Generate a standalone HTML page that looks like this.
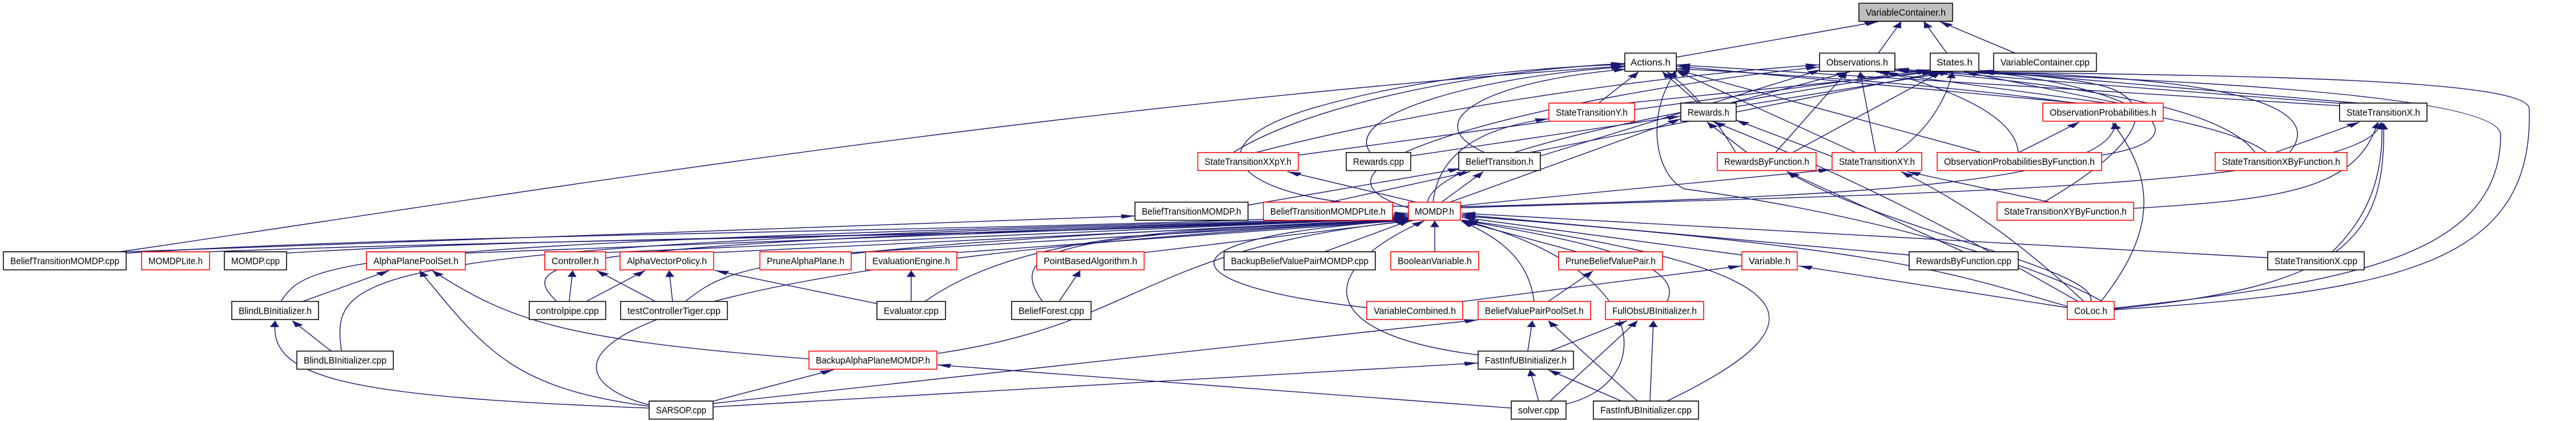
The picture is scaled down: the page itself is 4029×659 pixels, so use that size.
<!DOCTYPE html>
<html><head><meta charset="utf-8"><style>
html,body{margin:0;padding:0;background:#fff;width:4029px;height:659px;overflow:hidden}
svg{display:block}
text{font-family:"Liberation Sans",sans-serif;font-size:34px;fill:#000}
.e{fill:none;stroke:#191970;stroke-width:1.3;vector-effect:non-scaling-stroke;marker-end:url(#a)}
.b{fill:#fff;stroke:#000;stroke-width:1.4;vector-effect:non-scaling-stroke}
.r{fill:#fff;stroke:#ff0000;stroke-width:1.4;vector-effect:non-scaling-stroke}
.g{fill:#bfbfbf;stroke:#000;stroke-width:1.4;vector-effect:non-scaling-stroke}
</style></head><body>
<svg width="4029" height="659" viewBox="0 0 4512 1560" preserveAspectRatio="none" xmlns="http://www.w3.org/2000/svg">
<defs><marker id="a" markerUnits="userSpaceOnUse" markerWidth="26" markerHeight="18" refX="24" refY="8" orient="auto"><path d="M0,0 L24,8 L0,16 z" fill="#191970"/></marker></defs>
<g>
<!-- top -->
<path class="e" d="M2936,212 L3290,80"/>
<path class="e" d="M3290,197 L3330,80"/>
<path class="e" d="M3410,197 L3370,80"/>
<path class="e" d="M3530,197 L3398,80"/>
<!-- row2 -->
<path class="e" d="M2800,382 L2870,266"/>
<path class="e" d="M2850,382 L3390,266"/>
<path class="e" d="M2975,382 L2912,266"/>
<path class="e" d="M3030,382 L3240,266"/>
<path class="e" d="M3041,395 L3420,266"/>
<path class="e" d="M3640,382 L2936,245"/>
<path class="e" d="M3690,382 L3285,266"/>
<path class="e" d="M3710,382 L3440,266"/>
<path class="e" d="M4098,392 L2936,240"/>
<path class="e" d="M4110,385 L3319,255"/>
<path class="e" d="M4130,382 L3466,262"/>
<!-- row3 -->
<path class="e" d="M2160,565 C2300,380 2600,260 2846,235"/>
<path class="e" d="M2200,565 C2500,400 2900,280 3187,240"/>
<path class="e" d="M2274,575 L3381,258"/>
<path class="e" d="M2471,578 L2944,430"/>
<path class="e" d="M2400,565 C2350,420 2600,280 2846,248"/>
<path class="e" d="M2600,565 C2480,450 2600,300 2850,256"/>
<path class="e" d="M2698,578 L3190,258"/>
<path class="e" d="M2680,565 L3400,266"/>
<path class="e" d="M3060,565 L2990,452"/>
<path class="e" d="M3040,565 C3000,420 2960,330 2920,266"/>
<path class="e" d="M3110,565 L3235,266"/>
<path class="e" d="M3140,565 L3400,266"/>
<path class="e" d="M3250,565 L2936,262"/>
<path class="e" d="M3285,565 L3258,266"/>
<path class="e" d="M3320,565 C3380,480 3410,360 3420,266"/>
<path class="e" d="M3209,580 L3041,445"/>
<path class="e" d="M3536,565 L3642,452"/>
<path class="e" d="M3470,565 L2936,258"/>
<path class="e" d="M3535,565 C3530,420 3400,320 3300,266"/>
<path class="e" d="M3681,575 C3900,500 3700,300 3455,264"/>
<path class="e" d="M3985,565 L4133,452"/>
<path class="e" d="M3970,565 C3900,450 3600,330 2936,254"/>
<path class="e" d="M3950,565 C3900,420 3700,320 3319,260"/>
<path class="e" d="M4010,565 C4060,440 4000,290 3470,268"/>
<!-- row4 -->
<path class="e" d="M3590,749 L3340,636"/>
<path class="e" d="M3737,772 C4000,740 4130,700 4165,452"/>
<path class="e" d="M3580,749 C3700,600 3800,420 3700,330 C3650,290 3540,275 3468,268"/>
<path class="e" d="M2467,765 C2200,760 2050,560 2300,400 C2500,280 2700,250 2846,238"/>
<path class="e" d="M2467,770 C2200,600 2800,330 3187,248"/>
<path class="e" d="M2500,749 C2520,560 3000,380 3381,262"/>
<path class="e" d="M2510,749 C2520,560 2600,470 2713,440"/>
<path class="e" d="M2540,749 L2944,440"/>
<path class="e" d="M2480,749 L2255,636"/>
<path class="e" d="M2525,749 L2598,636"/>
<path class="e" d="M2558,770 C3300,720 4150,700 4170,454"/>
<path class="e" d="M2558,762 L3209,628"/>
<path class="e" d="M2558,766 C3200,730 3700,690 3705,454"/>
<path class="e" d="M2186,760 L2560,624"/>
<path class="e" d="M2330,749 L2575,636"/>
<!-- row5 -> MOMDP -->
<path class="e" d="M210,933 C900,720 1800,400 2846,244"/>
<path class="e" d="M221,933 L1988,800"/>
<path class="e" d="M221,938 C800,860 1800,860 2467,790"/>
<path class="e" d="M367,933 C1000,880 1900,880 2467,795"/>
<path class="e" d="M502,938 C1000,870 1900,880 2467,800"/>
<path class="e" d="M815,938 L2467,805"/>
<path class="e" d="M1061,936 L2467,808"/>
<path class="e" d="M1250,936 L2470,812"/>
<path class="e" d="M1491,936 L2472,814"/>
<path class="e" d="M1676,936 L2475,815"/>
<path class="e" d="M2004,936 L2478,816"/>
<path class="e" d="M2320,933 L2470,816"/>
<path class="e" d="M2513,933 L2513,818"/>
<path class="e" d="M2762,933 L2560,818"/>
<path class="e" d="M3051,945 L2560,805"/>
<path class="e" d="M3439,933 L3130,636"/>
<path class="e" d="M3344,945 L2560,795"/>
<path class="e" d="M4085,933 C4150,800 4175,650 4172,454"/>
<path class="e" d="M3972,955 L2560,790"/>
<!-- row6 -->
<path class="e" d="M492,1117 C540,960 600,900 2467,806"/>
<path class="e" d="M530,1117 L682,1002"/>
<path class="e" d="M997,1117 L1003,1002"/>
<path class="e" d="M1027,1117 L1130,1002"/>
<path class="e" d="M975,1117 C900,960 950,900 2467,808"/>
<path class="e" d="M1148,1117 L1045,1002"/>
<path class="e" d="M1178,1117 L1172,1002"/>
<path class="e" d="M1200,1117 C1280,990 1300,920 2467,812"/>
<path class="e" d="M1536,1125 L1252,1002"/>
<path class="e" d="M1596,1117 L1596,1002"/>
<path class="e" d="M1620,1117 C1800,850 2100,850 2467,814"/>
<path class="e" d="M1855,1117 L1892,1002"/>
<path class="e" d="M1826,1117 C1750,900 1900,870 2467,815"/>
<path class="e" d="M2394,1140 C2050,1060 2000,880 2467,816"/>
<path class="e" d="M2562,1117 L3051,985"/>
<path class="e" d="M2712,1117 L2790,1004"/>
<path class="e" d="M2687,1117 C2680,1000 2650,900 2560,820"/>
<path class="e" d="M2920,1117 C2960,950 2700,870 2560,815"/>
<path class="e" d="M3621,1140 L3150,985"/>
<path class="e" d="M3621,1135 C3400,1000 3300,920 2560,800"/>
<path class="e" d="M3640,1117 C3500,950 3300,700 3000,450"/>
<path class="e" d="M3650,1117 C3550,920 3450,760 3330,636"/>
<path class="e" d="M3662,1117 C3680,1000 3300,850 3130,636"/>
<path class="e" d="M3680,1117 C3760,900 3790,700 3700,455"/>
<path class="e" d="M3703,1145 C4100,1060 4180,900 4175,456"/>
<path class="e" d="M3703,1148 C4200,1080 4440,980 4430,400 C4420,300 4000,280 3470,268"/>
<path class="e" d="M3703,1142 C4100,1050 4380,960 4380,500 C4380,350 3800,290 3320,262"/>
<path class="e" d="M3700,1140 C3600,1000 3300,800 2950,700 C2900,650 2880,430 2936,262"/>
<!-- row7 -->
<path class="e" d="M580,1301 L512,1188"/>
<path class="e" d="M598,1301 C580,1000 600,900 2467,810"/>
<path class="e" d="M1417,1330 C1000,1260 900,1200 757,1002"/>
<path class="e" d="M1641,1310 C2000,1200 2000,920 2470,818"/>
<path class="e" d="M2589,1315 C2300,1240 2300,1000 2495,818"/>
<path class="e" d="M2676,1301 L2684,1188"/>
<path class="e" d="M2715,1301 L2850,1188"/>
<!-- row8 -->
<path class="e" d="M1137,1512 C600,1470 470,1400 482,1188"/>
<path class="e" d="M1137,1505 C900,1440 850,1300 735,1002"/>
<path class="e" d="M1137,1500 C950,1400 900,1000 2467,816"/>
<path class="e" d="M1250,1486 L1460,1370"/>
<path class="e" d="M1249,1508 L2589,1345"/>
<path class="e" d="M1249,1495 L2589,1185"/>
<path class="e" d="M2695,1486 L2680,1370"/>
<path class="e" d="M2715,1486 L2868,1188"/>
<path class="e" d="M2647,1512 L1641,1352"/>
<path class="e" d="M2743,1497 C2900,1420 2900,1000 2565,818"/>
<path class="e" d="M2840,1486 L2712,1370"/>
<path class="e" d="M2868,1486 L2712,1188"/>
<path class="e" d="M2890,1486 L2896,1188"/>
<path class="e" d="M2920,1486 C3200,1200 3200,1000 2565,816"/>
</g>
<g>
<rect class="g" x="3256" y="12" width="164" height="67"/><text x="3268" y="58" textLength="140" lengthAdjust="spacingAndGlyphs">VariableContainer.h</text>
<rect class="b" x="2846" y="197" width="90" height="67"/><text x="2856" y="243" textLength="70" lengthAdjust="spacingAndGlyphs">Actions.h</text>
<rect class="b" x="3187" y="197" width="132" height="67"/><text x="3199" y="243" textLength="108" lengthAdjust="spacingAndGlyphs">Observations.h</text>
<rect class="b" x="3381" y="197" width="85" height="67"/><text x="3392" y="243" textLength="63" lengthAdjust="spacingAndGlyphs">States.h</text>
<rect class="b" x="3492" y="197" width="180" height="67"/><text x="3504" y="243" textLength="156" lengthAdjust="spacingAndGlyphs">VariableContainer.cpp</text>

<rect class="r" x="2713" y="382" width="150" height="67"/><text x="2725" y="428" textLength="126" lengthAdjust="spacingAndGlyphs">StateTransitionY.h</text>
<rect class="b" x="2944" y="382" width="97" height="67"/><text x="2956" y="428" textLength="73" lengthAdjust="spacingAndGlyphs">Rewards.h</text>
<rect class="r" x="3578" y="382" width="211" height="67"/><text x="3590" y="428" textLength="187" lengthAdjust="spacingAndGlyphs">ObservationProbabilities.h</text>
<rect class="b" x="4098" y="382" width="153" height="67"/><text x="4110" y="428" textLength="129" lengthAdjust="spacingAndGlyphs">StateTransitionX.h</text>

<rect class="r" x="2098" y="565" width="176" height="67"/><text x="2110" y="611" textLength="152" lengthAdjust="spacingAndGlyphs">StateTransitionXXpY.h</text>
<rect class="b" x="2358" y="565" width="113" height="67"/><text x="2370" y="611" textLength="89" lengthAdjust="spacingAndGlyphs">Rewards.cpp</text>
<rect class="b" x="2555" y="565" width="143" height="67"/><text x="2567" y="611" textLength="119" lengthAdjust="spacingAndGlyphs">BeliefTransition.h</text>
<rect class="r" x="3008" y="565" width="173" height="67"/><text x="3020" y="611" textLength="149" lengthAdjust="spacingAndGlyphs">RewardsByFunction.h</text>
<rect class="r" x="3209" y="565" width="157" height="67"/><text x="3221" y="611" textLength="133" lengthAdjust="spacingAndGlyphs">StateTransitionXY.h</text>
<rect class="r" x="3393" y="565" width="288" height="67"/><text x="3405" y="611" textLength="264" lengthAdjust="spacingAndGlyphs">ObservationProbabilitiesByFunction.h</text>
<rect class="r" x="3880" y="565" width="231" height="67"/><text x="3892" y="611" textLength="207" lengthAdjust="spacingAndGlyphs">StateTransitionXByFunction.h</text>

<rect class="b" x="1988" y="749" width="198" height="67"/><text x="2000" y="795" textLength="174" lengthAdjust="spacingAndGlyphs">BeliefTransitionMOMDP.h</text>
<rect class="r" x="2213" y="749" width="226" height="67"/><text x="2225" y="795" textLength="202" lengthAdjust="spacingAndGlyphs">BeliefTransitionMOMDPLite.h</text>
<rect class="r" x="2467" y="749" width="91" height="67"/><text x="2478" y="795" textLength="69" lengthAdjust="spacingAndGlyphs">MOMDP.h</text>
<rect class="r" x="3498" y="749" width="239" height="67"/><text x="3510" y="795" textLength="215" lengthAdjust="spacingAndGlyphs">StateTransitionXYByFunction.h</text>

<rect class="b" x="6" y="933" width="215" height="67"/><text x="18" y="979" textLength="191" lengthAdjust="spacingAndGlyphs">BeliefTransitionMOMDP.cpp</text>
<rect class="r" x="248" y="933" width="119" height="67"/><text x="260" y="979" textLength="95" lengthAdjust="spacingAndGlyphs">MOMDPLite.h</text>
<rect class="b" x="393" y="933" width="109" height="67"/><text x="405" y="979" textLength="85" lengthAdjust="spacingAndGlyphs">MOMDP.cpp</text>
<rect class="r" x="642" y="933" width="173" height="67"/><text x="654" y="979" textLength="149" lengthAdjust="spacingAndGlyphs">AlphaPlanePoolSet.h</text>
<rect class="r" x="954" y="933" width="107" height="67"/><text x="966" y="979" textLength="83" lengthAdjust="spacingAndGlyphs">Controller.h</text>
<rect class="r" x="1086" y="933" width="164" height="67"/><text x="1098" y="979" textLength="140" lengthAdjust="spacingAndGlyphs">AlphaVectorPolicy.h</text>
<rect class="r" x="1331" y="933" width="160" height="67"/><text x="1343" y="979" textLength="136" lengthAdjust="spacingAndGlyphs">PruneAlphaPlane.h</text>
<rect class="r" x="1516" y="933" width="160" height="67"/><text x="1528" y="979" textLength="136" lengthAdjust="spacingAndGlyphs">EvaluationEngine.h</text>
<rect class="r" x="1816" y="933" width="188" height="67"/><text x="1828" y="979" textLength="164" lengthAdjust="spacingAndGlyphs">PointBasedAlgorithm.h</text>
<rect class="b" x="2144" y="933" width="265" height="67"/><text x="2156" y="979" textLength="241" lengthAdjust="spacingAndGlyphs">BackupBeliefValuePairMOMDP.cpp</text>
<rect class="r" x="2436" y="933" width="154" height="67"/><text x="2448" y="979" textLength="130" lengthAdjust="spacingAndGlyphs">BooleanVariable.h</text>
<rect class="r" x="2730" y="933" width="182" height="67"/><text x="2742" y="979" textLength="158" lengthAdjust="spacingAndGlyphs">PruneBeliefValuePair.h</text>
<rect class="r" x="3051" y="933" width="97" height="67"/><text x="3063" y="979" textLength="73" lengthAdjust="spacingAndGlyphs">Variable.h</text>
<rect class="b" x="3344" y="933" width="191" height="67"/><text x="3356" y="979" textLength="167" lengthAdjust="spacingAndGlyphs">RewardsByFunction.cpp</text>
<rect class="b" x="3972" y="933" width="169" height="67"/><text x="3984" y="979" textLength="145" lengthAdjust="spacingAndGlyphs">StateTransitionX.cpp</text>

<rect class="b" x="406" y="1117" width="152" height="67"/><text x="418" y="1163" textLength="128" lengthAdjust="spacingAndGlyphs">BlindLBInitializer.h</text>
<rect class="b" x="927" y="1117" width="134" height="67"/><text x="939" y="1163" textLength="110" lengthAdjust="spacingAndGlyphs">controlpipe.cpp</text>
<rect class="b" x="1087" y="1117" width="187" height="67"/><text x="1099" y="1163" textLength="163" lengthAdjust="spacingAndGlyphs">testControllerTiger.cpp</text>
<rect class="b" x="1536" y="1117" width="120" height="67"/><text x="1548" y="1163" textLength="96" lengthAdjust="spacingAndGlyphs">Evaluator.cpp</text>
<rect class="b" x="1772" y="1117" width="139" height="67"/><text x="1784" y="1163" textLength="115" lengthAdjust="spacingAndGlyphs">BeliefForest.cpp</text>
<rect class="r" x="2394" y="1117" width="168" height="67"/><text x="2406" y="1163" textLength="144" lengthAdjust="spacingAndGlyphs">VariableCombined.h</text>
<rect class="r" x="2589" y="1117" width="197" height="67"/><text x="2601" y="1163" textLength="173" lengthAdjust="spacingAndGlyphs">BeliefValuePairPoolSet.h</text>
<rect class="r" x="2812" y="1117" width="172" height="67"/><text x="2824" y="1163" textLength="148" lengthAdjust="spacingAndGlyphs">FullObsUBInitializer.h</text>
<rect class="r" x="3621" y="1117" width="82" height="67"/><text x="3633" y="1163" textLength="58" lengthAdjust="spacingAndGlyphs">CoLoc.h</text>

<rect class="b" x="520" y="1301" width="169" height="67"/><text x="532" y="1347" textLength="145" lengthAdjust="spacingAndGlyphs">BlindLBInitializer.cpp</text>
<rect class="r" x="1417" y="1301" width="224" height="67"/><text x="1429" y="1347" textLength="200" lengthAdjust="spacingAndGlyphs">BackupAlphaPlaneMOMDP.h</text>
<rect class="b" x="2589" y="1301" width="167" height="67"/><text x="2601" y="1347" textLength="143" lengthAdjust="spacingAndGlyphs">FastInfUBInitializer.h</text>

<rect class="b" x="1137" y="1486" width="112" height="67"/><text x="1149" y="1532" textLength="88" lengthAdjust="spacingAndGlyphs">SARSOP.cpp</text>
<rect class="b" x="2647" y="1486" width="96" height="67"/><text x="2659" y="1532" textLength="72" lengthAdjust="spacingAndGlyphs">solver.cpp</text>
<rect class="b" x="2791" y="1486" width="184" height="67"/><text x="2803" y="1532" textLength="160" lengthAdjust="spacingAndGlyphs">FastInfUBInitializer.cpp</text>
</g>
</svg>
</body></html>
